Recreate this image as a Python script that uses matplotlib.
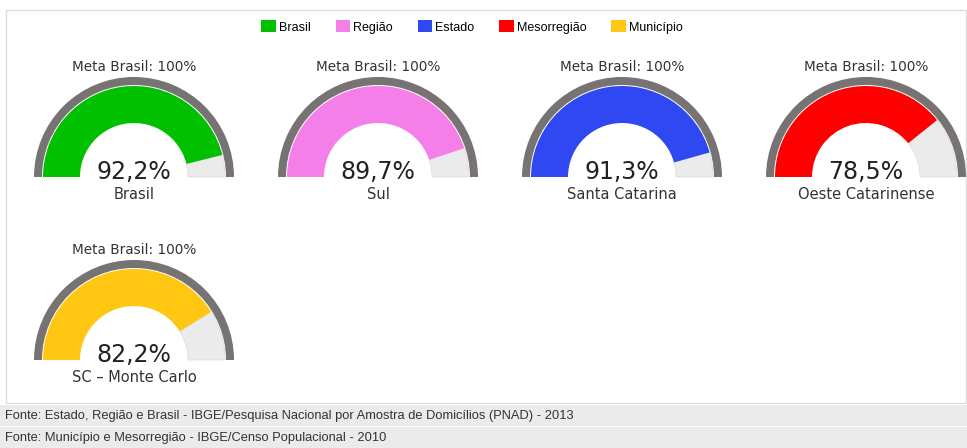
import matplotlib
matplotlib.use("Agg")
import matplotlib.pyplot as plt
from matplotlib.patches import Wedge, Rectangle, Patch

# indicator values (%) per level, target is 100%
categories = ["Brasil", "Região", "Estado", "Mesorregião", "Município"]
place_names = ["Brasil", "Sul", "Santa Catarina", "Oeste Catarinense", "SC – Monte Carlo"]
values = [92.2, 89.7, 91.3, 78.5, 82.2]
target = 100
colors = ["#00c000", "#f57fe9", "#2f48f2", "#fe0000", "#ffc712"]
footer_lines = [
    "Fonte: Estado, Região e Brasil - IBGE/Pesquisa Nacional por Amostra de Domicílios (PNAD) - 2013",
    "Fonte: Município e Mesorregião - IBGE/Censo Populacional - 2010",
]

W, H = 967, 448
fig = plt.figure(figsize=(W / 100, H / 100), dpi=100)
ax = fig.add_axes([0, 0, 1, 1])
ax.set_xlim(0, W)
ax.set_ylim(0, H)
ax.set_aspect("equal")
ax.axis("off")

def py(y):
    # screen-style y (from top) to axes y
    return H - y

# panel border
ax.add_patch(Rectangle((6, py(403)), W - 7, 393, fill=False, ec="#dddddd", lw=1))

# gauge layout: centre x and baseline y of each dial
centers = [(134, 177), (378, 177), (622, 177), (866, 177), (134, 360)]
r_outer, r_ring_in = 100, 92
r_fill, r_hole = 91, 54

for (cx, cy), val, col, name in zip(centers, values, colors, place_names):
    y0 = py(cy)
    ang = 180 - 180 * val / target
    ax.add_patch(Wedge((cx, y0), r_outer, 0, 180, width=r_outer - r_ring_in,
                       fc="#787373", ec="none"))
    ax.add_patch(Wedge((cx, y0), r_fill, 0, ang, width=r_fill - r_hole,
                       fc="#ebebeb", ec="#dadada", lw=0.5))
    ax.add_patch(Wedge((cx, y0), r_fill, ang, 180, width=r_fill - r_hole,
                       fc=col, ec="none"))
    ax.text(cx, y0 + 110, "Meta Brasil: %d%%" % target, ha="center", va="center",
            fontsize=9.8, color="#333333", family="DejaVu Sans")
    ax.text(cx, y0 + 5, ("%.1f%%" % val).replace(".", ","), ha="center", va="center",
            fontsize=17, color="#222222", family="DejaVu Sans")
    ax.text(cx, y0 - 17, name, ha="center", va="center",
            fontsize=10.5, color="#333333", family="DejaVu Sans")

# footer bands
for i, line in enumerate(footer_lines):
    top = 405 + i * 22
    ax.add_patch(Rectangle((0, py(top + 21)), W, 21, fc="#ebebeb", ec="none"))
    ax.text(5, py(top + 11), line, ha="left", va="center",
            fontsize=9.3, color="#333333", family="Liberation Sans")

handles = [Patch(fc=c, ec="none") for c in colors]
fig.legend(handles, categories, loc="center", bbox_to_anchor=(472 / W, 1 - 27 / H),
           ncol=5, frameon=False, prop={"family": "Liberation Sans", "size": 9},
           handlelength=1.15, handleheight=1.1, handletextpad=0.25, columnspacing=2.0)

fig.savefig("out.png", dpi=100)
